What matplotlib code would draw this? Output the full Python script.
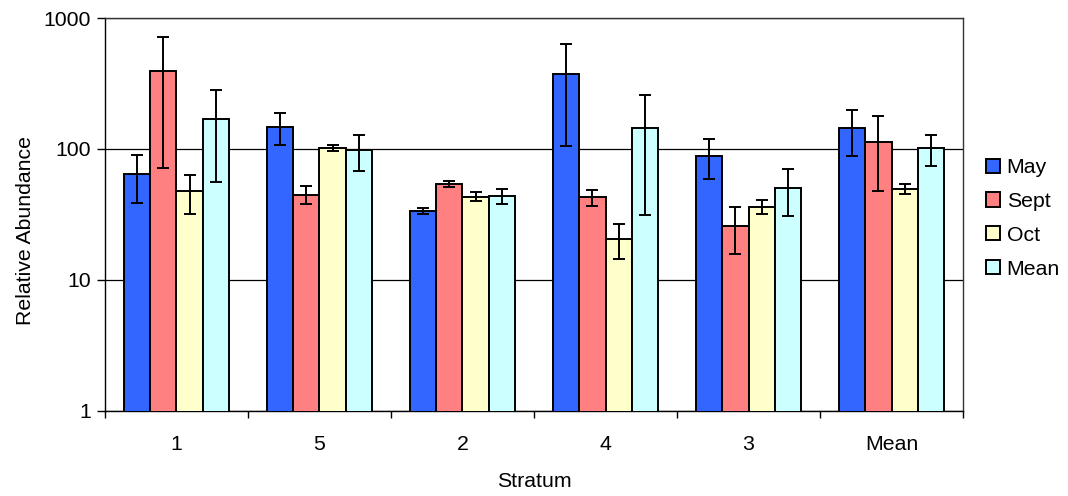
import numpy as np
import matplotlib
matplotlib.use("Agg")
import matplotlib.pyplot as plt
from matplotlib.ticker import FixedLocator, NullLocator, FixedFormatter

# data
strata = ["1", "5", "2", "4", "3", "Mean"]
series = ["May", "Sept", "Oct", "Mean"]
may = [64.4, 148, 33.8, 371, 88.9, 143.8]
may_err = [26, 40, 1.7, 266, 30, 55]
sept = [396, 44.8, 54.1, 42.7, 25.8, 112.5]
sept_err = [325, 7, 3.2, 5.8, 10.1, 65]
octo = [47.8, 102, 43.3, 20.5, 36.3, 49.5]
octo_err = [16, 6, 3.4, 6.1, 4.4, 4.2]
mean = [169, 98.3, 43.8, 145.5, 50.4, 101.8]
mean_err = [113, 30, 5.6, 114, 19.6, 27]

colors = ["#3366FF", "#FF8080", "#FFFFCC", "#CCFFFF"]
fs = 15.3

plt.rcParams['font.family'] = ['Liberation Sans', 'DejaVu Sans']

fig = plt.figure(figsize=(10.68, 4.96), dpi=100)
ax = fig.add_axes([0.0983, 0.1714, 0.8034, 0.7923])

x = np.arange(len(strata))
w = 0.182
vals = [may, sept, octo, mean]
errs = [may_err, sept_err, octo_err, mean_err]
for j, (name, v, e, c) in enumerate(zip(series, vals, errs, colors)):
    pos = x + (j - 1.5) * w
    ax.bar(pos, v, width=w, color=c, edgecolor="black", linewidth=1.4,
           label=name, zorder=3)
    ax.errorbar(pos, v, yerr=e, fmt="none", ecolor="black", elinewidth=1.4,
                capsize=4.3, capthick=1.4, zorder=4)

ax.set_yscale("log")
ax.set_ylim(1, 1000)
ax.set_xlim(-0.5, len(strata) - 0.5)
ax.yaxis.set_major_locator(FixedLocator([1, 10, 100, 1000]))
ax.yaxis.set_major_formatter(FixedFormatter(["1", "10", "100", "1000"]))
ax.yaxis.set_minor_locator(NullLocator())
ax.yaxis.grid(True, color="black", linewidth=0.9, zorder=0)

ax.set_xticks(x)
ax.set_xticklabels(strata)
ax.xaxis.set_minor_locator(FixedLocator(np.arange(-0.5, len(strata), 1.0)))
ax.tick_params(axis="x", which="major", length=0, pad=17, labelsize=fs)
ax.tick_params(axis="x", which="minor", length=5, width=1, direction="out")
ax.tick_params(axis="y", which="major", length=6, width=1, direction="out",
               pad=4, labelsize=fs)

for s in ax.spines.values():
    s.set_linewidth(1)
    s.set_color("black")
ax.spines["top"].set_color("#333333")
ax.spines["right"].set_color("#333333")

ax.set_xlabel("Stratum", fontsize=fs, labelpad=13)
ax.set_ylabel("Relative Abundance", fontsize=fs)
ax.yaxis.set_label_coords(-0.082, 0.46)

leg = ax.legend(loc="center left", bbox_to_anchor=(1.005, 0.49), frameon=False,
                fontsize=fs, handlelength=0.65, handleheight=0.65,
                handletextpad=0.3, labelspacing=0.7)
for h in leg.legend_handles:
    h.set_linewidth(1.4)

fig.savefig("out.png", dpi=100)
